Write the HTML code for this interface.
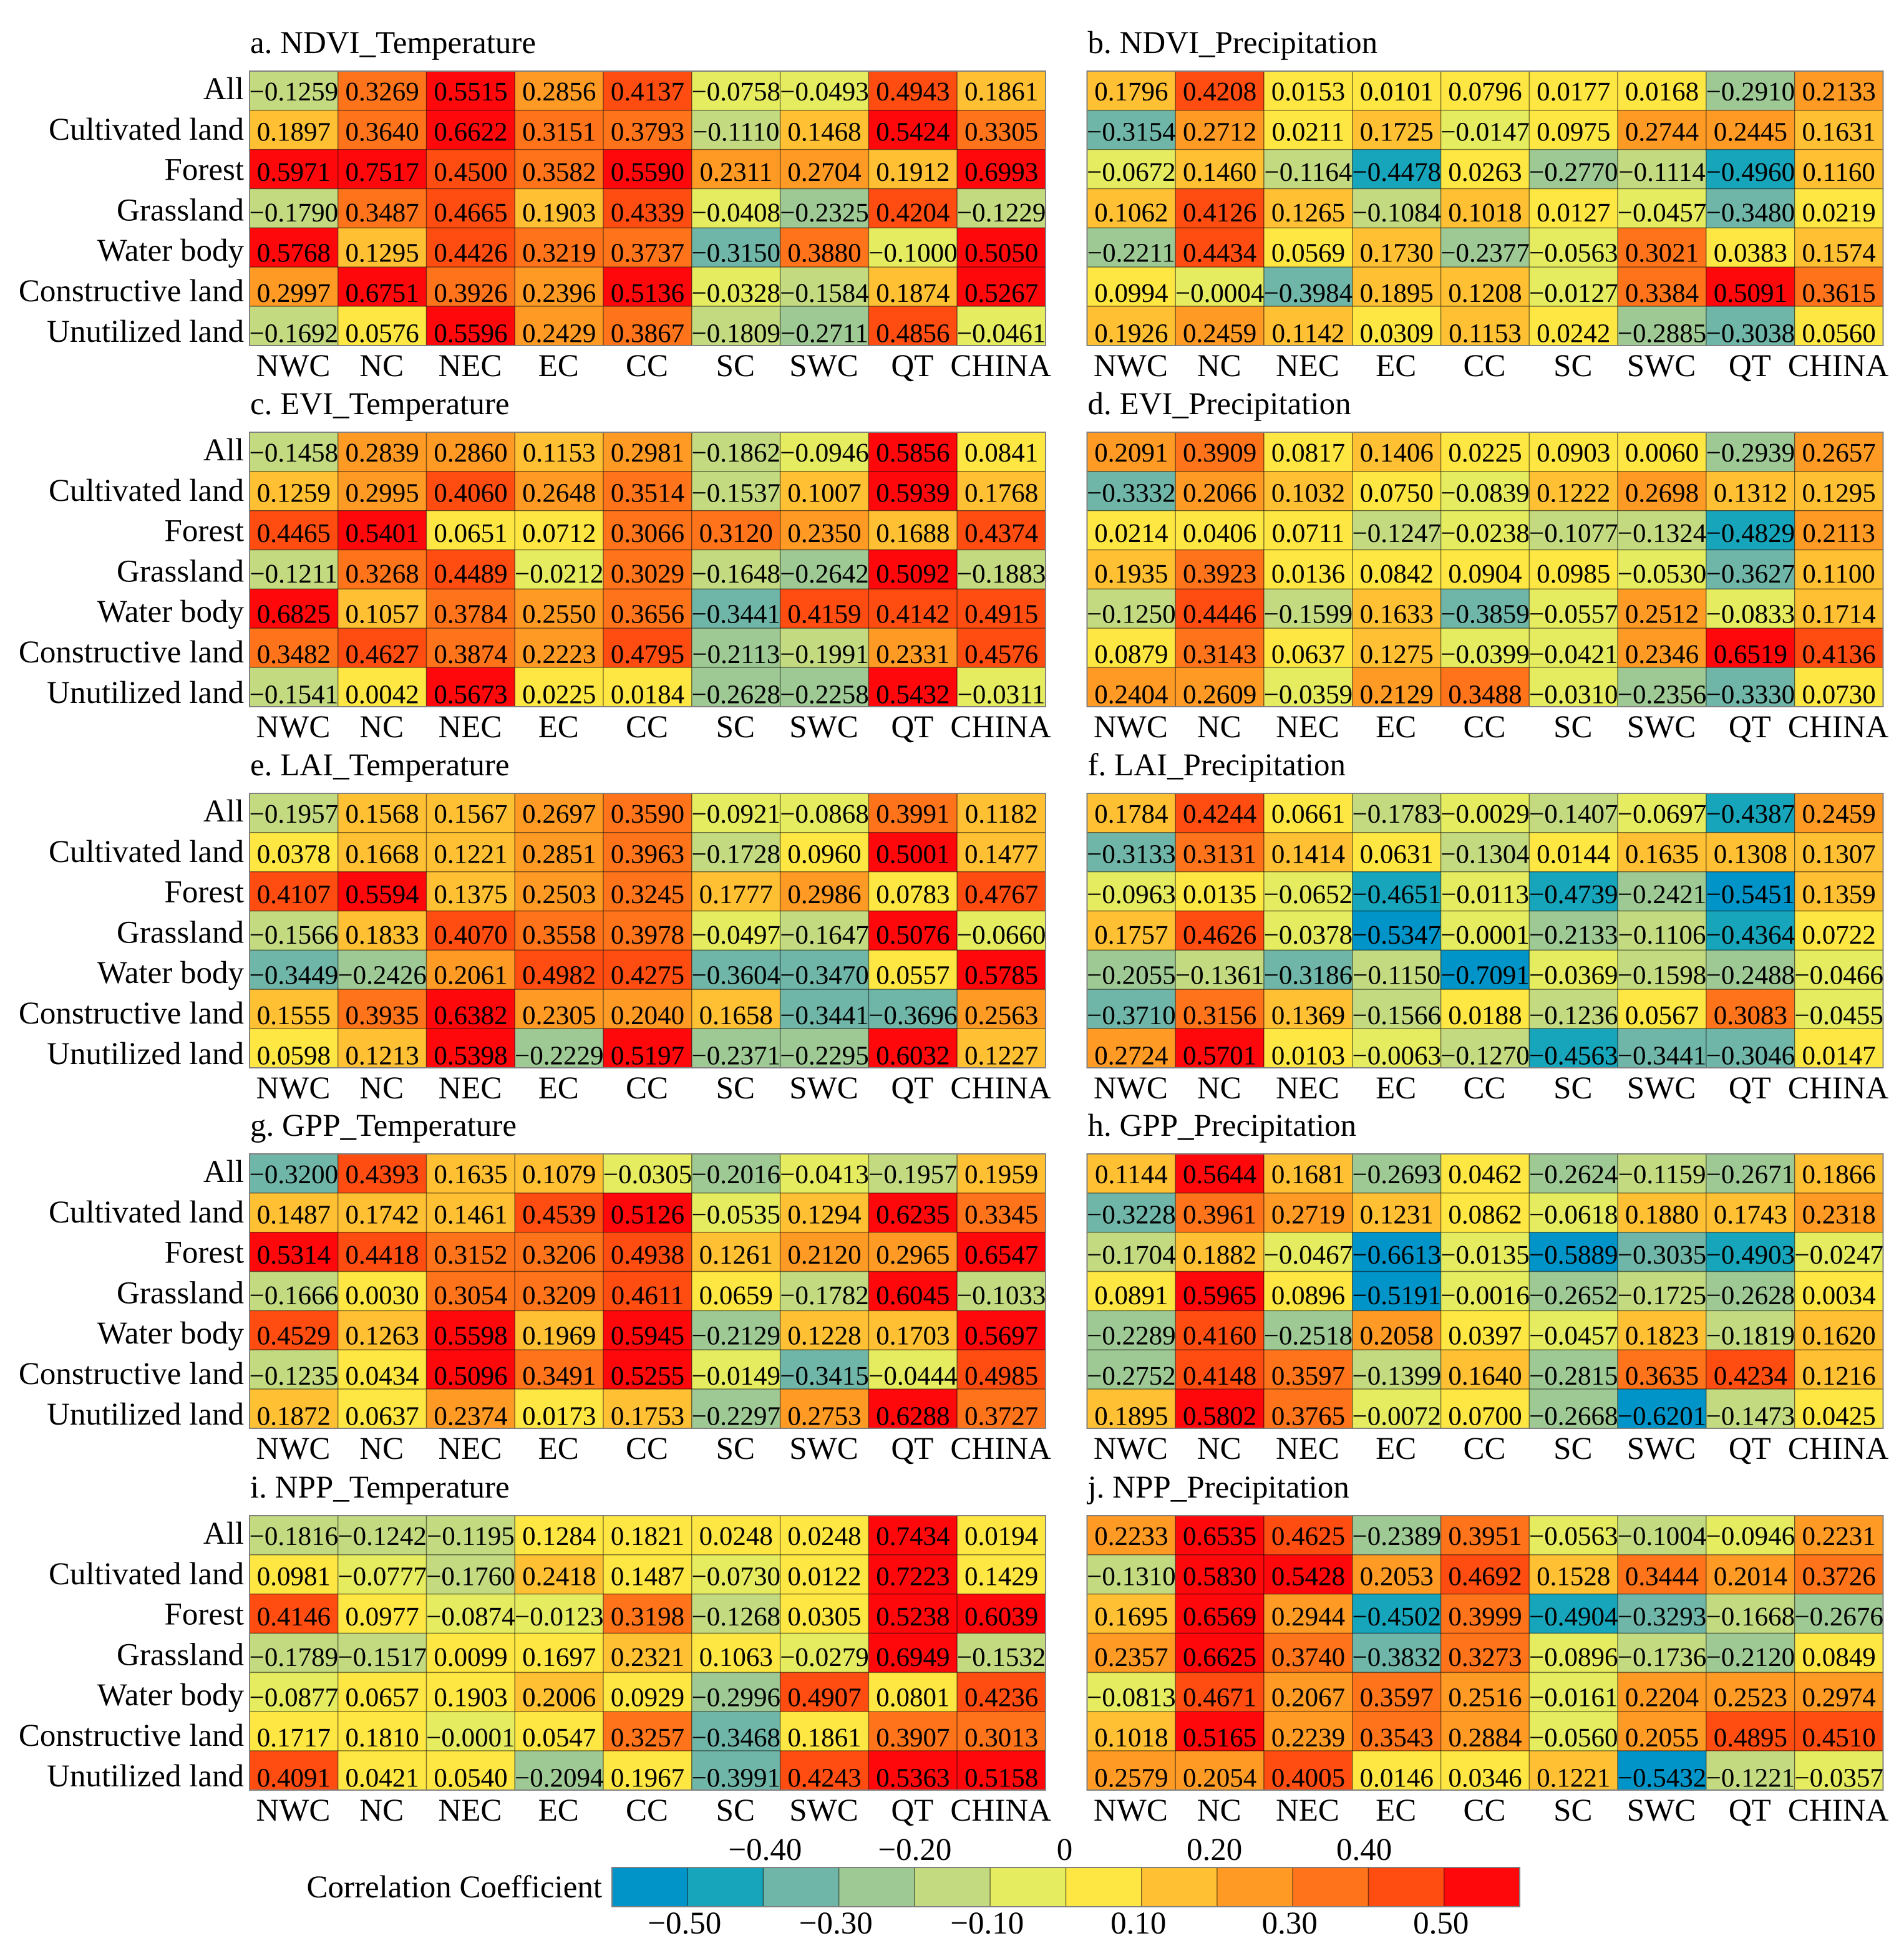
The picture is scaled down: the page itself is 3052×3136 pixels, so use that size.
<!DOCTYPE html>
<html lang="en">
<head>
<meta charset="utf-8">
<title>Correlation coefficient heatmaps</title>
<style>
  html, body { margin: 0; padding: 0; background: #ffffff; }
  body { width: 3052px; height: 3136px; overflow: hidden; }
  svg { display: block; font-family: "Liberation Serif", "Times New Roman", serif; text-rendering: geometricPrecision; }
  text { fill: #000000; }
</style>
</head>
<body>
<svg id="chart" xmlns="http://www.w3.org/2000/svg" width="3052" height="3136" viewBox="0 0 3052 3136"></svg>
<script>
const regionLabels = ["NWC", "NC", "NEC", "EC", "CC", "SC", "SWC", "QT", "CHINA"];
const landLabels = ["All", "Cultivated land", "Forest", "Grassland", "Water body", "Constructive land", "Unutilized land"];

const binColors = ["#0094c9", "#17a5bb", "#6fb6a8", "#9fc994", "#c4da80", "#e6ec60", "#ffe743", "#ffc033", "#ff9a24", "#ff741a", "#ff4d12", "#ff080c"];
const binEdges = [-0.5, -0.4, -0.3, -0.2, -0.1, 0, 0.1, 0.2, 0.3, 0.4, 0.5];
const binEdgesNppTemperature = [-0.5, -0.4, -0.3, -0.2, -0.1, 0, 0.2, 0.3, 0.3, 0.4, 0.5];

const legendTopTicks = [-0.4, -0.2, 0, 0.2, 0.4];
const legendBottomTicks = [-0.5, -0.3, -0.1, 0.1, 0.3, 0.5];

const ndviTemperature = [
  [-0.1259, 0.3269, 0.5515, 0.2856, 0.4137, -0.0758, -0.0493, 0.4943, 0.1861],
  [0.1897, 0.3640, 0.6622, 0.3151, 0.3793, -0.1110, 0.1468, 0.5424, 0.3305],
  [0.5971, 0.7517, 0.4500, 0.3582, 0.5590, 0.2311, 0.2704, 0.1912, 0.6993],
  [-0.1790, 0.3487, 0.4665, 0.1903, 0.4339, -0.0408, -0.2325, 0.4204, -0.1229],
  [0.5768, 0.1295, 0.4426, 0.3219, 0.3737, -0.3150, 0.3880, -0.1000, 0.5050],
  [0.2997, 0.6751, 0.3926, 0.2396, 0.5136, -0.0328, -0.1584, 0.1874, 0.5267],
  [-0.1692, 0.0576, 0.5596, 0.2429, 0.3867, -0.1809, -0.2711, 0.4856, -0.0461]
];
const ndviPrecipitation = [
  [0.1796, 0.4208, 0.0153, 0.0101, 0.0796, 0.0177, 0.0168, -0.2910, 0.2133],
  [-0.3154, 0.2712, 0.0211, 0.1725, -0.0147, 0.0975, 0.2744, 0.2445, 0.1631],
  [-0.0672, 0.1460, -0.1164, -0.4478, 0.0263, -0.2770, -0.1114, -0.4960, 0.1160],
  [0.1062, 0.4126, 0.1265, -0.1084, 0.1018, 0.0127, -0.0457, -0.3480, 0.0219],
  [-0.2211, 0.4434, 0.0569, 0.1730, -0.2377, -0.0563, 0.3021, 0.0383, 0.1574],
  [0.0994, -0.0004, -0.3984, 0.1895, 0.1208, -0.0127, 0.3384, 0.5091, 0.3615],
  [0.1926, 0.2459, 0.1142, 0.0309, 0.1153, 0.0242, -0.2885, -0.3038, 0.0560]
];
const eviTemperature = [
  [-0.1458, 0.2839, 0.2860, 0.1153, 0.2981, -0.1862, -0.0946, 0.5856, 0.0841],
  [0.1259, 0.2995, 0.4060, 0.2648, 0.3514, -0.1537, 0.1007, 0.5939, 0.1768],
  [0.4465, 0.5401, 0.0651, 0.0712, 0.3066, 0.3120, 0.2350, 0.1688, 0.4374],
  [-0.1211, 0.3268, 0.4489, -0.0212, 0.3029, -0.1648, -0.2642, 0.5092, -0.1883],
  [0.6825, 0.1057, 0.3784, 0.2550, 0.3656, -0.3441, 0.4159, 0.4142, 0.4915],
  [0.3482, 0.4627, 0.3874, 0.2223, 0.4795, -0.2113, -0.1991, 0.2331, 0.4576],
  [-0.1541, 0.0042, 0.5673, 0.0225, 0.0184, -0.2628, -0.2258, 0.5432, -0.0311]
];
const eviPrecipitation = [
  [0.2091, 0.3909, 0.0817, 0.1406, 0.0225, 0.0903, 0.0060, -0.2939, 0.2657],
  [-0.3332, 0.2066, 0.1032, 0.0750, -0.0839, 0.1222, 0.2698, 0.1312, 0.1295],
  [0.0214, 0.0406, 0.0711, -0.1247, -0.0238, -0.1077, -0.1324, -0.4829, 0.2113],
  [0.1935, 0.3923, 0.0136, 0.0842, 0.0904, 0.0985, -0.0530, -0.3627, 0.1100],
  [-0.1250, 0.4446, -0.1599, 0.1633, -0.3859, -0.0557, 0.2512, -0.0833, 0.1714],
  [0.0879, 0.3143, 0.0637, 0.1275, -0.0399, -0.0421, 0.2346, 0.6519, 0.4136],
  [0.2404, 0.2609, -0.0359, 0.2129, 0.3488, -0.0310, -0.2356, -0.3330, 0.0730]
];
const laiTemperature = [
  [-0.1957, 0.1568, 0.1567, 0.2697, 0.3590, -0.0921, -0.0868, 0.3991, 0.1182],
  [0.0378, 0.1668, 0.1221, 0.2851, 0.3963, -0.1728, 0.0960, 0.5001, 0.1477],
  [0.4107, 0.5594, 0.1375, 0.2503, 0.3245, 0.1777, 0.2986, 0.0783, 0.4767],
  [-0.1566, 0.1833, 0.4070, 0.3558, 0.3978, -0.0497, -0.1647, 0.5076, -0.0660],
  [-0.3449, -0.2426, 0.2061, 0.4982, 0.4275, -0.3604, -0.3470, 0.0557, 0.5785],
  [0.1555, 0.3935, 0.6382, 0.2305, 0.2040, 0.1658, -0.3441, -0.3696, 0.2563],
  [0.0598, 0.1213, 0.5398, -0.2229, 0.5197, -0.2371, -0.2295, 0.6032, 0.1227]
];
const laiPrecipitation = [
  [0.1784, 0.4244, 0.0661, -0.1783, -0.0029, -0.1407, -0.0697, -0.4387, 0.2459],
  [-0.3133, 0.3131, 0.1414, 0.0631, -0.1304, 0.0144, 0.1635, 0.1308, 0.1307],
  [-0.0963, 0.0135, -0.0652, -0.4651, -0.0113, -0.4739, -0.2421, -0.5451, 0.1359],
  [0.1757, 0.4626, -0.0378, -0.5347, -0.0001, -0.2133, -0.1106, -0.4364, 0.0722],
  [-0.2055, -0.1361, -0.3186, -0.1150, -0.7091, -0.0369, -0.1598, -0.2488, -0.0466],
  [-0.3710, 0.3156, 0.1369, -0.1566, 0.0188, -0.1236, 0.0567, 0.3083, -0.0455],
  [0.2724, 0.5701, 0.0103, -0.0063, -0.1270, -0.4563, -0.3441, -0.3046, 0.0147]
];
const gppTemperature = [
  [-0.3200, 0.4393, 0.1635, 0.1079, -0.0305, -0.2016, -0.0413, -0.1957, 0.1959],
  [0.1487, 0.1742, 0.1461, 0.4539, 0.5126, -0.0535, 0.1294, 0.6235, 0.3345],
  [0.5314, 0.4418, 0.3152, 0.3206, 0.4938, 0.1261, 0.2120, 0.2965, 0.6547],
  [-0.1666, 0.0030, 0.3054, 0.3209, 0.4611, 0.0659, -0.1782, 0.6045, -0.1033],
  [0.4529, 0.1263, 0.5598, 0.1969, 0.5945, -0.2129, 0.1228, 0.1703, 0.5697],
  [-0.1235, 0.0434, 0.5096, 0.3491, 0.5255, -0.0149, -0.3415, -0.0444, 0.4985],
  [0.1872, 0.0637, 0.2374, 0.0173, 0.1753, -0.2297, 0.2753, 0.6288, 0.3727]
];
const gppPrecipitation = [
  [0.1144, 0.5644, 0.1681, -0.2693, 0.0462, -0.2624, -0.1159, -0.2671, 0.1866],
  [-0.3228, 0.3961, 0.2719, 0.1231, 0.0862, -0.0618, 0.1880, 0.1743, 0.2318],
  [-0.1704, 0.1882, -0.0467, -0.6613, -0.0135, -0.5889, -0.3035, -0.4903, -0.0247],
  [0.0891, 0.5965, 0.0896, -0.5191, -0.0016, -0.2652, -0.1725, -0.2628, 0.0034],
  [-0.2289, 0.4160, -0.2518, 0.2058, 0.0397, -0.0457, 0.1823, -0.1819, 0.1620],
  [-0.2752, 0.4148, 0.3597, -0.1399, 0.1640, -0.2815, 0.3635, 0.4234, 0.1216],
  [0.1895, 0.5802, 0.3765, -0.0072, 0.0700, -0.2668, -0.6201, -0.1473, 0.0425]
];
const nppTemperature = [
  [-0.1816, -0.1242, -0.1195, 0.1284, 0.1821, 0.0248, 0.0248, 0.7434, 0.0194],
  [0.0981, -0.0777, -0.1760, 0.2418, 0.1487, -0.0730, 0.0122, 0.7223, 0.1429],
  [0.4146, 0.0977, -0.0874, -0.0123, 0.3198, -0.1268, 0.0305, 0.5238, 0.6039],
  [-0.1789, -0.1517, 0.0099, 0.1697, 0.2321, 0.1063, -0.0279, 0.6949, -0.1532],
  [-0.0877, 0.0657, 0.1903, 0.2006, 0.0929, -0.2996, 0.4907, 0.0801, 0.4236],
  [0.1717, 0.1810, -0.0001, 0.0547, 0.3257, -0.3468, 0.1861, 0.3907, 0.3013],
  [0.4091, 0.0421, 0.0540, -0.2094, 0.1967, -0.3991, 0.4243, 0.5363, 0.5158]
];
const nppPrecipitation = [
  [0.2233, 0.6535, 0.4625, -0.2389, 0.3951, -0.0563, -0.1004, -0.0946, 0.2231],
  [-0.1310, 0.5830, 0.5428, 0.2053, 0.4692, 0.1528, 0.3444, 0.2014, 0.3726],
  [0.1695, 0.6569, 0.2944, -0.4502, 0.3999, -0.4904, -0.3293, -0.1668, -0.2676],
  [0.2357, 0.6625, 0.3740, -0.3832, 0.3273, -0.0896, -0.1736, -0.2120, 0.0849],
  [-0.0813, 0.4671, 0.2067, 0.3597, 0.2516, -0.0161, 0.2204, 0.2523, 0.2974],
  [0.1018, 0.5165, 0.2239, 0.3543, 0.2884, -0.0560, 0.2055, 0.4895, 0.4510],
  [0.2579, 0.2054, 0.4005, 0.0146, 0.0346, 0.1221, -0.5432, -0.1221, -0.0357]
];

const SVG_NS = "http://www.w3.org/2000/svg";
const root = document.getElementById("chart");

/* Layout */
const columnLefts = [400, 1742.5];
const panelWidth = 1276;
const panelHeight = 440;
const rowTops = [114, 693, 1272, 1850, 2430];
const legendLeft = 981;
const legendRight = 2436;
const legendTop = 2994;
const legendBottom = 3057;
const labelFontSize = 51;
const cellFontSize = 43;

function make(tag, parent, props) {
  const node = document.createElementNS(SVG_NS, tag);
  for (const key in props) {
    node.setAttribute(key, props[key]);
  }
  parent.appendChild(node);
  return node;
}

function slug(text) {
  return text.toLowerCase().replace(/[^a-z0-9]+/g, "-").replace(/^-|-$/g, "");
}

function colorFor(value, edges) {
  let index = 0;
  for (const edge of edges) {
    if (value >= edge) index += 1;
  }
  return binColors[index];
}

function formatCell(value) {
  return value.toFixed(4).replace("-", "\u2212");
}

function formatTick(value) {
  return value === 0 ? "0" : value.toFixed(2).replace("-", "\u2212");
}

function drawPanel(title, values, left, top, edges) {
  const nCols = regionLabels.length;
  const nRows = landLabels.length;
  const xScale = function (col) { return left + col * panelWidth / nCols; };
  const yScale = function (row) { return top + row * panelHeight / nRows; };
  const cellTextY = function (row) { return top + 47 + row * 64.6; };
  const rowLabelY = function (row) { return top + 45 + row * 64.8; };

  const group = make("g", root, {});
  
  

  const heading = make("text", group, { x: left + 1, y: top - 29, "font-size": labelFontSize });
  
  
  heading.textContent = title;

  values.forEach(function (rowValues, r) {
    rowValues.forEach(function (value, c) {
      const cell = make("rect", group, {
        x: xScale(c), y: yScale(r),
        width: panelWidth / nCols, height: panelHeight / nRows,
        fill: colorFor(value, edges),
        stroke: "rgba(0,0,0,0.38)", "stroke-width": 1.5
      });
      
      
    });
  });

  const frame = make("rect", group, {
    x: left, y: top, width: panelWidth, height: panelHeight,
    fill: "none", stroke: "#808080", "stroke-width": 2
  });
  
  

  values.forEach(function (rowValues, r) {
    rowValues.forEach(function (value, c) {
      const label = make("text", group, {
        x: xScale(c + 0.5), y: cellTextY(r),
        "font-size": cellFontSize, "text-anchor": "middle"
      });
      
      
      label.textContent = formatCell(value);
    });
  });

  if (left === columnLefts[0]) {
    landLabels.forEach(function (name, r) {
      const label = make("text", group, {
        x: left - 9, y: rowLabelY(r),
        "font-size": labelFontSize, "text-anchor": "end"
      });
      
      
      label.textContent = name;
    });
  }

  regionLabels.forEach(function (name, c) {
    const label = make("text", group, {
      x: xScale(c + 0.5) - 1, y: top + panelHeight + 49,
      "font-size": labelFontSize, "text-anchor": "middle"
    });
    
    
    label.textContent = name;
  });
}

drawPanel("a. NDVI_Temperature", ndviTemperature, columnLefts[0], rowTops[0], binEdges);
drawPanel("b. NDVI_Precipitation", ndviPrecipitation, columnLefts[1], rowTops[0], binEdges);
drawPanel("c. EVI_Temperature", eviTemperature, columnLefts[0], rowTops[1], binEdges);
drawPanel("d. EVI_Precipitation", eviPrecipitation, columnLefts[1], rowTops[1], binEdges);
drawPanel("e. LAI_Temperature", laiTemperature, columnLefts[0], rowTops[2], binEdges);
drawPanel("f. LAI_Precipitation", laiPrecipitation, columnLefts[1], rowTops[2], binEdges);
drawPanel("g. GPP_Temperature", gppTemperature, columnLefts[0], rowTops[3], binEdges);
drawPanel("h. GPP_Precipitation", gppPrecipitation, columnLefts[1], rowTops[3], binEdges);
drawPanel("i. NPP_Temperature", nppTemperature, columnLefts[0], rowTops[4], binEdgesNppTemperature);
drawPanel("j. NPP_Precipitation", nppPrecipitation, columnLefts[1], rowTops[4], binEdges);

/* Legend: value axis maps -0.6..0.6 across the bar */
function legendX(value) {
  return legendLeft + (value + 0.6) / 1.2 * (legendRight - legendLeft);
}

const legend = make("g", root, {});



const legendTitle = make("text", legend, {
  x: 965, y: 3042, "font-size": labelFontSize, "text-anchor": "end"
});


legendTitle.textContent = "Correlation Coefficient";

binColors.forEach(function (color, i) {
  const swatch = make("rect", legend, {
    x: legendX(-0.6 + i * 0.1), y: legendTop,
    width: legendX(0.1) - legendX(0), height: legendBottom - legendTop,
    fill: color, stroke: "rgba(0,0,0,0.38)", "stroke-width": 1.5
  });
  
  
});

const legendFrame = make("rect", legend, {
  x: legendLeft, y: legendTop,
  width: legendRight - legendLeft, height: legendBottom - legendTop,
  fill: "none", stroke: "#808080", "stroke-width": 2
});



legendTopTicks.forEach(function (tick) {
  const label = make("text", legend, {
    x: legendX(tick * 0.99) - 2, y: 2982, "font-size": labelFontSize, "text-anchor": "middle"
  });
  
  
  label.textContent = formatTick(tick);
});

legendBottomTicks.forEach(function (tick) {
  const label = make("text", legend, {
    x: legendX(tick) - 5, y: 3100, "font-size": labelFontSize, "text-anchor": "middle"
  });
  
  
  label.textContent = formatTick(tick);
});
</script>
</body>
</html>
